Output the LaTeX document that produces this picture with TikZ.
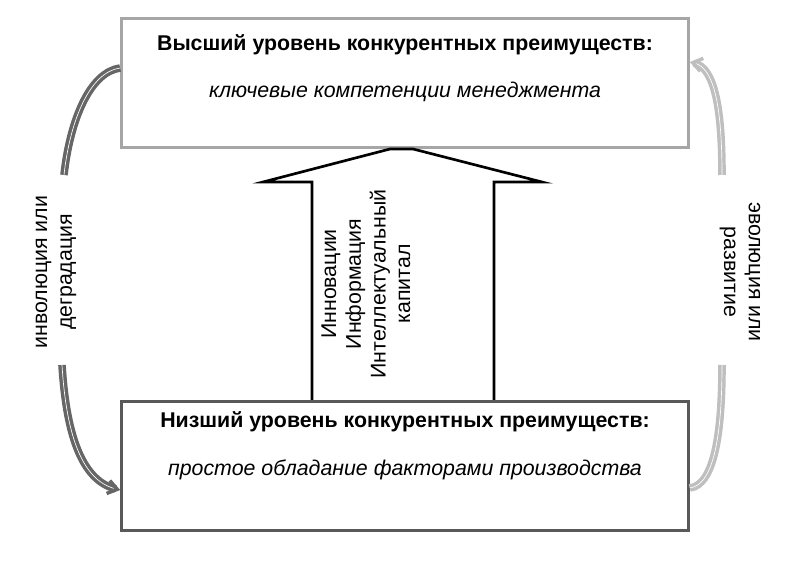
\documentclass[tikz,border=0pt]{standalone}
\usepackage{fontspec}
\setmainfont{Liberation Sans}
\usetikzlibrary{arrows.meta}

\tikzset{
  levelbox/.style={draw, line width=2.2pt, minimum width=425pt, minimum height=97pt},
  cycleline/.style={line width=2.6pt, double=white, double distance=0.5pt},
  cyclearrow/.style={cycleline, -{Straight Barb[open,length=7pt,width=10pt]}},
  txt/.style={align=center, font=\fontsize{16}{18.5}\selectfont},
}

\begin{document}
\begin{tikzpicture}[x=0.75pt, y=-0.75pt]
\useasboundingbox (0,0) rectangle (800,566);
% boxes
\node [levelbox, draw=gray!70] (high) at (405,83) {};
\node [txt] (hightitle) at (405,45) {\textbf{Высший уровень конкурентных преимуществ:}};
\node [txt] (highsub) at (405,92) {\textit{ключевые компетенции менеджмента}};
\node [levelbox, draw=black!65] (low) at (405,466) {};
\node [txt] (lowtitle) at (405,422) {\textbf{Низший уровень конкурентных преимуществ:}};
\node [txt] (lowsub) at (405,470) {\textit{простое обладание факторами производства}};
% big arrow
\draw [line width=2pt, fill=white] (312,400) -- (312,182) -- (263,182) -- (390,149) -- (413,149) -- (542,182) -- (494,182) -- (494,400);
\node [txt, rotate=90] (drivers) at (366,284) {Инновации\\Информация\\Интеллектуальный\\капитал};
% side cycles
\coordinate (hl) at (high.west |- 0,68);
\coordinate (ll) at (low.west |- 0,490);
\coordinate (hr) at (high.east |- 0,62);
\coordinate (lr) at (low.east |- 0,488);
\draw [cycleline, draw=black!60] (hl) .. controls (90,72) and (70,120) .. (64,175);
\draw [cyclearrow, draw=black!60] (62,365) .. controls (66,430) and (80,480) .. (ll);
\node [txt, rotate=90] (down) at (56,272) {инволюция или\\деградация};
\draw [cycleline, draw=gray!50] (lr) .. controls (715,485) and (722,430) .. (722,365);
\draw [cyclearrow, draw=gray!50] (722,175) .. controls (722,110) and (715,68) .. (hr);
\node [txt, rotate=-90] (up) at (740,272) {эволюция или\\развитие};
\end{tikzpicture}
\end{document}
